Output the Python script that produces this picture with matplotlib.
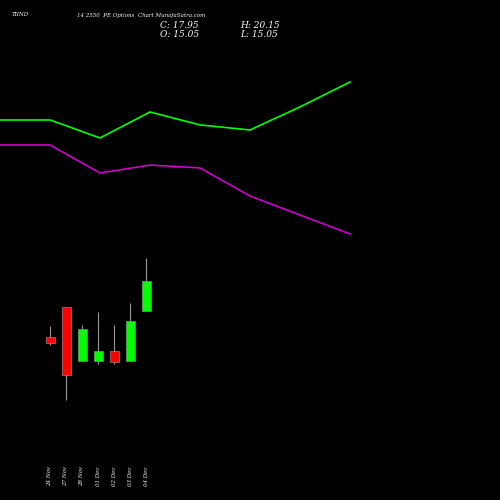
import matplotlib
matplotlib.use("Agg")
import matplotlib.pyplot as plt

dates = ["24 Nov", "27 Nov", "28 Nov", "01 Dec", "02 Dec", "03 Dec", "04 Dec"]
opens = [12.54, 15.44, 10.22, 10.22, 11.18, 10.22, 15.05]
closes = [11.96, 8.86, 13.31, 11.18, 10.12, 14.08, 17.95]
highs = [13.60, 15.44, 13.70, 14.95, 13.70, 15.82, 20.15]
lows = [11.76, 6.44, 10.22, 9.92, 9.92, 10.22, 15.05]

line_x = [0, 50, 100, 150, 200, 250, 300, 350]
green_line = [33.52, 33.52, 31.78, 34.29, 33.04, 32.55, 34.78, 37.19]
magenta_line = [31.10, 31.10, 28.39, 29.16, 28.88, 26.17, 24.33, 22.50]

fig = plt.figure(figsize=(5, 5), dpi=100, facecolor="black")
ax = fig.add_axes([0, 0, 1, 1], facecolor="black")
ax.set_xlim(0, 500)
ax.set_ylim(-3.23, 45.12)
ax.axis("off")

ax.plot(line_x, green_line, color="#00ff00", lw=1.2)
ax.plot(line_x, magenta_line, color="#cc00cc", lw=1.2)

for i, (o, c, h, l) in enumerate(zip(opens, closes, highs, lows)):
    x = 50 + 16 * i
    col = "#00ff00" if c >= o else "#ff0000"
    ax.vlines(x, l, h, color="#999999", lw=0.8, zorder=1)
    ax.bar(x, abs(c - o), bottom=min(o, c), width=9, color=col,
           edgecolor="#888888", lw=0.5, zorder=2)
    ax.text(x, -0.9, dates[i], rotation=90, color="white", fontsize=4,
            family="DejaVu Serif", style="italic", ha="center", va="center")

fs = dict(color="white", family="DejaVu Serif", style="italic")
fig.text(12 / 500, 1 - 15 / 500, "TIIND", fontsize=4, va="center", **fs)
fig.text(77 / 500, 1 - 15 / 500, "14 2550  PE Options  Chart MunafaSutra.com",
         fontsize=4, va="center", **fs)
fig.text(160 / 500, 1 - 25 / 500, "C: 17.95", fontsize=6.5, va="center", **fs)
fig.text(240 / 500, 1 - 25 / 500, "H: 20.15", fontsize=6.5, va="center", **fs)
fig.text(160 / 500, 1 - 34 / 500, "O: 15.05", fontsize=6.5, va="center", **fs)
fig.text(240 / 500, 1 - 34 / 500, "L: 15.05", fontsize=6.5, va="center", **fs)

fig.savefig("out.png", dpi=100, facecolor="black")
